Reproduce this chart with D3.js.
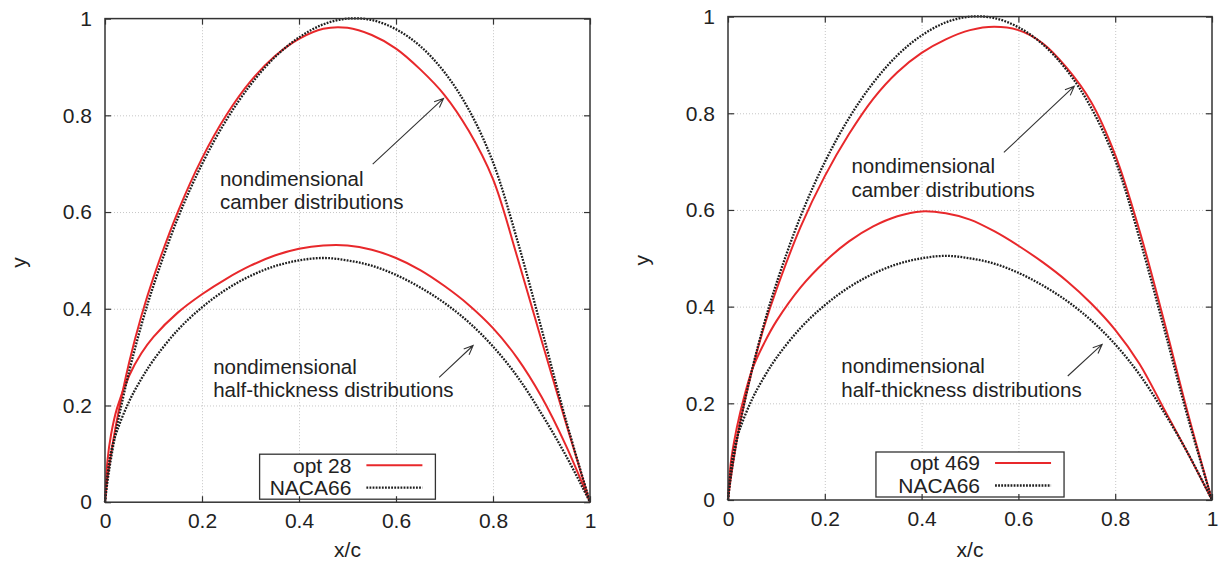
<!DOCTYPE html>
<html>
<head>
<meta charset="utf-8">
<script src="https://cdn.jsdelivr.net/npm/d3@7"></script>
<style>
  body { margin: 0; background: #fff; }
  text { font-family: "Liberation Sans", Arial, Helvetica, sans-serif; fill: #222; }
</style>
</head>
<body>
<svg id="chart" width="1223" height="569"></svg>
<script>
// chordwise stations (x/c)
const xc = [0, 0.005, 0.0125, 0.025, 0.05, 0.075, 0.1, 0.15, 0.2, 0.25, 0.3, 0.35, 0.4,
            0.45, 0.5, 0.55, 0.6, 0.65, 0.7, 0.75, 0.8, 0.85, 0.9, 0.95, 1];

// NACA66 reference section (same in both panels)
const nacaCamber = [0, 0.042, 0.091, 0.159, 0.271, 0.366, 0.448, 0.587, 0.699, 0.790, 0.863, 0.920, 0.961,
                    0.988, 1.0, 0.997, 0.978, 0.943, 0.889, 0.812, 0.703, 0.542, 0.359, 0.171, 0];
const nacaThick  = [0, 0.055, 0.105, 0.148, 0.209, 0.255, 0.294, 0.356, 0.403, 0.440, 0.468, 0.488, 0.500,
                    0.505, 0.500, 0.489, 0.470, 0.444, 0.412, 0.372, 0.322, 0.260, 0.183, 0.097, 0];

// optimised sections
const opt28Camber = [0, 0.05, 0.10, 0.172, 0.29, 0.385, 0.465, 0.600, 0.711, 0.800, 0.870, 0.922, 0.958,
                     0.979, 0.981, 0.966, 0.938, 0.895, 0.842, 0.768, 0.668, 0.507, 0.335, 0.165, 0];
const opt28Thick  = [0, 0.085, 0.14, 0.195, 0.262, 0.308, 0.342, 0.392, 0.430, 0.462, 0.489, 0.510, 0.524,
                     0.531, 0.531, 0.522, 0.505, 0.480, 0.447, 0.408, 0.360, 0.298, 0.218, 0.118, 0];
const opt469Camber = [0, 0.04, 0.09, 0.16, 0.27, 0.36, 0.435, 0.565, 0.670, 0.757, 0.830, 0.885, 0.925,
                      0.953, 0.972, 0.979, 0.972, 0.945, 0.894, 0.824, 0.714, 0.558, 0.374, 0.18, 0];
const opt469Thick  = [0, 0.07, 0.12, 0.18, 0.27, 0.325, 0.37, 0.44, 0.493, 0.535, 0.566, 0.587, 0.597,
                      0.593, 0.580, 0.556, 0.526, 0.492, 0.453, 0.407, 0.352, 0.282, 0.190, 0.097, 0];

const xTicks = [0, 0.2, 0.4, 0.6, 0.8, 1];
const yTicks = [0, 0.2, 0.4, 0.6, 0.8, 1];
const noteLines = {
  camber: ["nondimensional", "camber distributions"],
  thick: ["nondimensional", "half-thickness distributions"]
};

const panels = [
  {
    left: 105, right: 590, top: 18.6, bottom: 502.2,
    optName: "opt 28", optCamber: opt28Camber, optThick: opt28Thick,
    notes: [{key: "camber", at: [0.237, 0.654]}, {key: "thick", at: [0.223, 0.265]}],
    arrows: [{from: [0.552, 0.699], to: [0.698, 0.835]}, {from: [0.689, 0.258], to: [0.759, 0.324]}]
  },
  {
    left: 728, right: 1212, top: 16.6, bottom: 500,
    optName: "opt 469", optCamber: opt469Camber, optThick: opt469Thick,
    notes: [{key: "camber", at: [0.255, 0.676]}, {key: "thick", at: [0.234, 0.262]}],
    arrows: [{from: [0.570, 0.719], to: [0.7155, 0.856]}, {from: [0.702, 0.2565], to: [0.773, 0.322]}]
  }
];

const red = "#e8282b";
const dark = "#1e1e1e";
const fontSize = 21;

const svg = d3.select("#chart");

function drawPanel(p) {
  const x = d3.scaleLinear().domain([0, 1]).range([p.left, p.right]);
  const y = d3.scaleLinear().domain([0, 1]).range([p.bottom, p.top]);
  const w = p.right - p.left, h = p.bottom - p.top;
  const g = svg.append("g");

  // grid
  g.append("g")
    .attr("transform", `translate(0,${p.bottom})`)
    .call(d3.axisBottom(x).tickValues(xTicks.slice(1, -1)).tickSize(-h).tickFormat(""))
    .call(a => a.select(".domain").remove())
    .selectAll("line").attr("stroke", "#b8b8b8").attr("stroke-width", 0.8).attr("stroke-dasharray", "1,2");
  g.append("g")
    .attr("transform", `translate(${p.left},0)`)
    .call(d3.axisLeft(y).tickValues(yTicks.slice(1, -1)).tickSize(-w).tickFormat(""))
    .call(a => a.select(".domain").remove())
    .selectAll("line").attr("stroke", "#b8b8b8").attr("stroke-width", 0.8).attr("stroke-dasharray", "1,2");

  // curves
  const line = d3.line().x((d, i) => x(xc[i])).y(d => y(d)).curve(d3.curveCatmullRom.alpha(0.5));
  [[p.optCamber, "opt"], [p.optThick, "opt"], [nacaCamber, "naca"], [nacaThick, "naca"]].forEach(([vals, kind]) => {
    g.append("path")
      .attr("d", line(vals))
      .attr("fill", "none")
      .attr("stroke", kind === "opt" ? red : dark)
      .attr("stroke-width", kind === "opt" ? 2 : 2.3)
      .attr("stroke-dasharray", kind === "opt" ? null : "1.8,1.3");
  });

  // annotations
  p.notes.forEach(n => {
    const t = g.append("text")
      .attr("x", x(n.at[0])).attr("y", y(n.at[1]))
      .attr("font-size", 20.5);
    noteLines[n.key].forEach((s, i) => {
      t.append("tspan").attr("x", x(n.at[0])).attr("dy", i ? 23.3 : 0).text(s);
    });
  });
  p.arrows.forEach(a => {
    const x0 = x(a.from[0]), y0 = y(a.from[1]), x1 = x(a.to[0]), y1 = y(a.to[1]);
    const ang = Math.atan2(y1 - y0, x1 - x0);
    const L = 10, spread = 0.4;
    const path = d3.path();
    path.moveTo(x0, y0); path.lineTo(x1, y1);
    path.moveTo(x1 - L * Math.cos(ang - spread), y1 - L * Math.sin(ang - spread));
    path.lineTo(x1, y1);
    path.lineTo(x1 - L * Math.cos(ang + spread), y1 - L * Math.sin(ang + spread));
    g.append("path").attr("d", path.toString()).attr("fill", "none")
      .attr("stroke", "#333").attr("stroke-width", 1.1);
  });

  // key, centred at the bottom
  const maxChars = d3.max([p.optName, "NACA66"], s => s.length);
  const keyW = maxChars * 12.3 + 18 + 84, keyH = 45;
  const kx = p.left + w / 2 - keyW / 2, ky = p.bottom - 3 - keyH;
  const textRight = kx + keyW - 84;
  g.append("rect").attr("x", kx).attr("y", ky).attr("width", keyW).attr("height", keyH)
    .attr("fill", "#fff").attr("stroke", "#333").attr("stroke-width", 1.3);
  [[p.optName, red, null, 11], ["NACA66", dark, "1.8,1.3", 33.5]].forEach(([lab, col, dash, dy]) => {
    g.append("text").attr("x", textRight).attr("y", ky + dy).attr("dy", "0.35em")
      .attr("text-anchor", "end").attr("font-size", fontSize).text(lab);
    g.append("line").attr("x1", textRight + 15).attr("x2", textRight + 71)
      .attr("y1", ky + dy).attr("y2", ky + dy)
      .attr("stroke", col).attr("stroke-width", dash ? 2.3 : 2).attr("stroke-dasharray", dash);
  });

  // axes with inward ticks, mirrored on top and right
  const fmt = d => String(d);
  const styleAxis = a => {
    a.select(".domain").remove();
    a.selectAll("line").attr("stroke", "#333").attr("stroke-width", 1.2);
    a.selectAll("text").attr("font-size", fontSize).attr("fill", "#222")
      .style("font-family", '"Liberation Sans", Arial, sans-serif');
  };
  g.append("g").attr("transform", `translate(0,${p.bottom})`)
    .call(d3.axisBottom(x).tickValues(xTicks).tickSize(-6).tickPadding(11).tickFormat(fmt)).call(styleAxis);
  g.append("g").attr("transform", `translate(0,${p.top})`)
    .call(d3.axisTop(x).tickValues(xTicks).tickSize(-6).tickFormat("")).call(styleAxis);
  g.append("g").attr("transform", `translate(${p.left},0)`)
    .call(d3.axisLeft(y).tickValues(yTicks).tickSize(-6).tickPadding(13).tickFormat(fmt)).call(styleAxis);
  g.append("g").attr("transform", `translate(${p.right},0)`)
    .call(d3.axisRight(y).tickValues(yTicks).tickSize(-6).tickFormat("")).call(styleAxis);

  // frame
  g.append("rect").attr("x", p.left).attr("y", p.top).attr("width", w).attr("height", h)
    .attr("fill", "none").attr("stroke", "#333").attr("stroke-width", 1.5);

  // axis titles
  g.append("text").attr("x", p.left + w / 2).attr("y", 557)
    .attr("text-anchor", "middle").attr("font-size", fontSize).text("x/c");
  g.append("text").attr("transform", `translate(${p.left - 86},${p.top + h / 2 + 2}) rotate(-90)`)
    .attr("text-anchor", "middle").attr("dy", "0.35em").attr("font-size", fontSize).text("y");
}

panels.forEach(drawPanel);
</script>
</body>
</html>
